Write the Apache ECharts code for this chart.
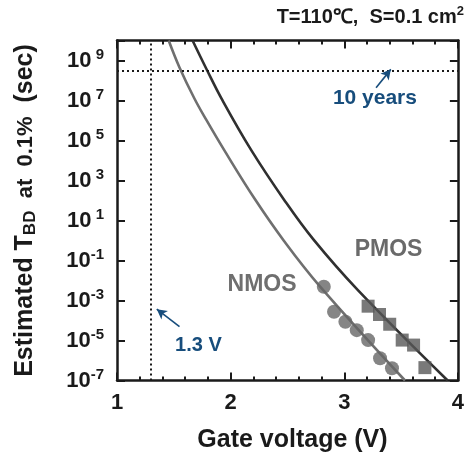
<!DOCTYPE html>
<html><head><meta charset="utf-8">
<script src="https://cdn.jsdelivr.net/npm/echarts@6/dist/echarts.min.js"></script>
<style>html,body{margin:0;padding:0;background:#fff}#c{width:467px;height:464px}</style>
</head><body><div id="c"></div>
<script>
// ---- data ----
const xRange = [1, 4];
const yRange = [1e-7, 1e10];
// NMOS fitted curve (gate voltage V, estimated T_BD sec)
const nmosFitV = [1.455, 1.55, 1.68, 1.785, 1.945, 2.21, 2.47, 2.78, 3.535];
const nmosFitT = [1e10, 4.5e8, 1.3e7, 1.1e6, 3.2e4, 1.25e2, 0.95, 5.6e-3, 1e-7];
// PMOS fitted curve
const pmosFitV = [1.665, 1.785, 1.925, 2.18, 2.47, 2.73, 3.12, 3.91];
const pmosFitT = [1e10, 4e8, 1.1e7, 3.4e4, 1.1e2, 1.1, 3.3e-3, 1e-7];
// NMOS measured points (circles)
const nmosPtV = [2.82, 2.91, 3.01, 3.11, 3.21, 3.315, 3.42];
const nmosPtT = [4.9e-3, 2.75e-4, 8.7e-5, 3.3e-5, 1.05e-5, 1.3e-6, 4.1e-7];
// PMOS measured points (squares)
const pmosPtV = [3.21, 3.31, 3.40, 3.51, 3.61, 3.71];
const pmosPtT = [5.2e-4, 2.0e-4, 6.5e-5, 1.05e-5, 5.9e-6, 4.4e-7];
// reference lines
const tenYears = 3.15e8;
const refVoltage = 1.3;
const yearsArrow = [[3.28, 4.4e7], [3.41, 3.6e8]];
const voltArrow = [[1.55, 4.9e-5], [1.35, 3.7e-4]];
const labels = {
  years: {text: '10 years', at: [3.27, 1.3e7]},
  volt: {text: '1.3 V', at: [1.717, 5.4e-6]},
  nmos: {text: 'NMOS', at: [2.277, 6e-3]},
  pmos: {text: 'PMOS', at: [3.39, 0.34]}
};

const FONT = 'Liberation Sans, Arial, sans-serif';
const BLACK = '#1a1a1a';
const BLUE = '#174d7c';
const zip = (a, b) => a.map((v, i) => [v, b[i]]);

const chart = echarts.init(document.getElementById('c'), null, {renderer: 'canvas'});

const xBase = {
  type: 'value', min: xRange[0], max: xRange[1], interval: 1,
  axisLine: {show: true, lineStyle: {color: BLACK, width: 2.5}},
  axisTick: {show: true, inside: true, length: 8, lineStyle: {color: BLACK, width: 2}},
  minorTick: {show: true, splitNumber: 5, length: 4, lineStyle: {color: BLACK, width: 2}},
  splitLine: {show: false}, minorSplitLine: {show: false}
};
const yBase = {
  type: 'log', logBase: 10, min: yRange[0], max: yRange[1], interval: 2,
  axisLine: {show: true, lineStyle: {color: BLACK, width: 2.5}},
  axisTick: {show: true, inside: true, length: 8, lineStyle: {color: BLACK, width: 2}},
  splitLine: {show: false}, minorTick: {show: false}
};

chart.setOption({
  animation: false,
  backgroundColor: '#fff',
  grid: {left: 117, right: 7, top: 40.5, bottom: 83.5, containLabel: false},
  xAxis: [
    Object.assign({}, xBase, {
      position: 'bottom',
      axisLabel: {show: true, fontSize: 22, fontWeight: 'bold', color: BLACK, fontFamily: FONT, margin: 11},
      name: 'Gate voltage (V)', nameLocation: 'middle', nameGap: 47, nameTextStyle: {
        fontSize: 25, fontWeight: 'bold', color: BLACK, fontFamily: FONT, padding: [0, 0, 0, 10]}
    }),
    Object.assign({}, xBase, {position: 'top', axisLabel: {show: false}})
  ],
  yAxis: [
    Object.assign({}, yBase, {
      position: 'left',
      axisLabel: {
        show: true, margin: 13,
        formatter: function (v) {
          const e = Math.round(Math.log10(v));
          if (e > 9 || e < -7) return '';
          return '{b|10}{s|' + (e >= 0 ? ' ' : '') + e + '}';
        },
        rich: {
          b: {fontSize: 22, fontWeight: 'bold', color: BLACK, fontFamily: FONT},
          s: {fontSize: 15, fontWeight: 'bold', color: BLACK, fontFamily: FONT, padding: [0, 0, 12, 0]}
        }
      },
      name: '{a|Estimated T}{sub|BD}{c|  at  0.1%}{a|  (sec)}',
      nameLocation: 'middle', nameRotate: 90, nameGap: 78,
      nameTextStyle: {
        rich: {
          a: {fontSize: 25, fontWeight: 'bold', color: BLACK, fontFamily: FONT},
          c: {fontSize: 22, fontWeight: 'bold', color: BLACK, fontFamily: FONT},
          sub: {fontSize: 17, fontWeight: 'bold', color: BLACK, fontFamily: FONT, padding: [10, 0, 0, 0]}
        }
      }
    }),
    Object.assign({}, yBase, {position: 'right', axisLabel: {show: false}})
  ],
  series: [
    {
      name: 'NMOS fit', type: 'line', xAxisIndex: 0, yAxisIndex: 0,
      data: zip(nmosFitV, nmosFitT), smooth: 0.4, showSymbol: false, symbol: 'none',
      lineStyle: {color: '#6f6f6f', width: 2.6}, z: 3,
      markLine: {
        silent: true, symbol: ['none', 'none'], label: {show: false},
        lineStyle: {color: BLACK, type: [2, 3], width: 2},
        data: [{yAxis: tenYears}, {xAxis: refVoltage}]
      }
    },
    {
      name: 'PMOS fit', type: 'line', xAxisIndex: 0, yAxisIndex: 0,
      data: zip(pmosFitV, pmosFitT), smooth: 0.4, showSymbol: false, symbol: 'none',
      lineStyle: {color: '#303030', width: 2.6}, z: 3,
      markLine: {
        silent: true, symbol: ['none', 'arrow'], symbolSize: [8, 10], label: {show: false},
        lineStyle: {color: BLUE, type: 'solid', width: 1.6},
        data: [
          [{coord: yearsArrow[0]}, {coord: yearsArrow[1]}],
          [{coord: voltArrow[0]}, {coord: voltArrow[1]}]
        ]
      }
    },
    {
      name: 'NMOS', type: 'scatter', data: zip(nmosPtV, nmosPtT),
      symbol: 'circle', symbolSize: 14, itemStyle: {color: '#666666'}, z: 4
    },
    {
      name: 'PMOS', type: 'scatter', data: zip(pmosPtV, pmosPtT),
      symbol: 'rect', symbolSize: 13, itemStyle: {color: '#585858'}, z: 4
    }
  ]
});

function px(pt) { return chart.convertToPixel({xAxisIndex: 0, yAxisIndex: 0}, pt); }
const g = [];
function addText(item, fill, size) {
  const p = px(item.at);
  g.push({type: 'text', x: p[0], y: p[1], z: 10,
    style: {text: item.text, fill: fill, font: 'bold ' + size + 'px ' + FONT, align: 'center', verticalAlign: 'middle'}});
}
addText(labels.years, BLUE, 21);
addText(labels.volt, BLUE, 20);
addText(labels.nmos, '#6f6f6f', 23);
addText(labels.pmos, '#6a6a6a', 23);
g.push({type: 'text', right: 3, top: 5, z: 10,
  style: {
    text: '{a|T=110℃,  S=0.1 cm}{s|2}',
    rich: {
      a: {fontSize: 20, fontWeight: 'bold', fill: BLACK, fontFamily: FONT},
      s: {fontSize: 13, fontWeight: 'bold', fill: BLACK, fontFamily: FONT, padding: [0, 0, 11, 0]}
    }
  }});
chart.setOption({graphic: g});
</script>
</body></html>
